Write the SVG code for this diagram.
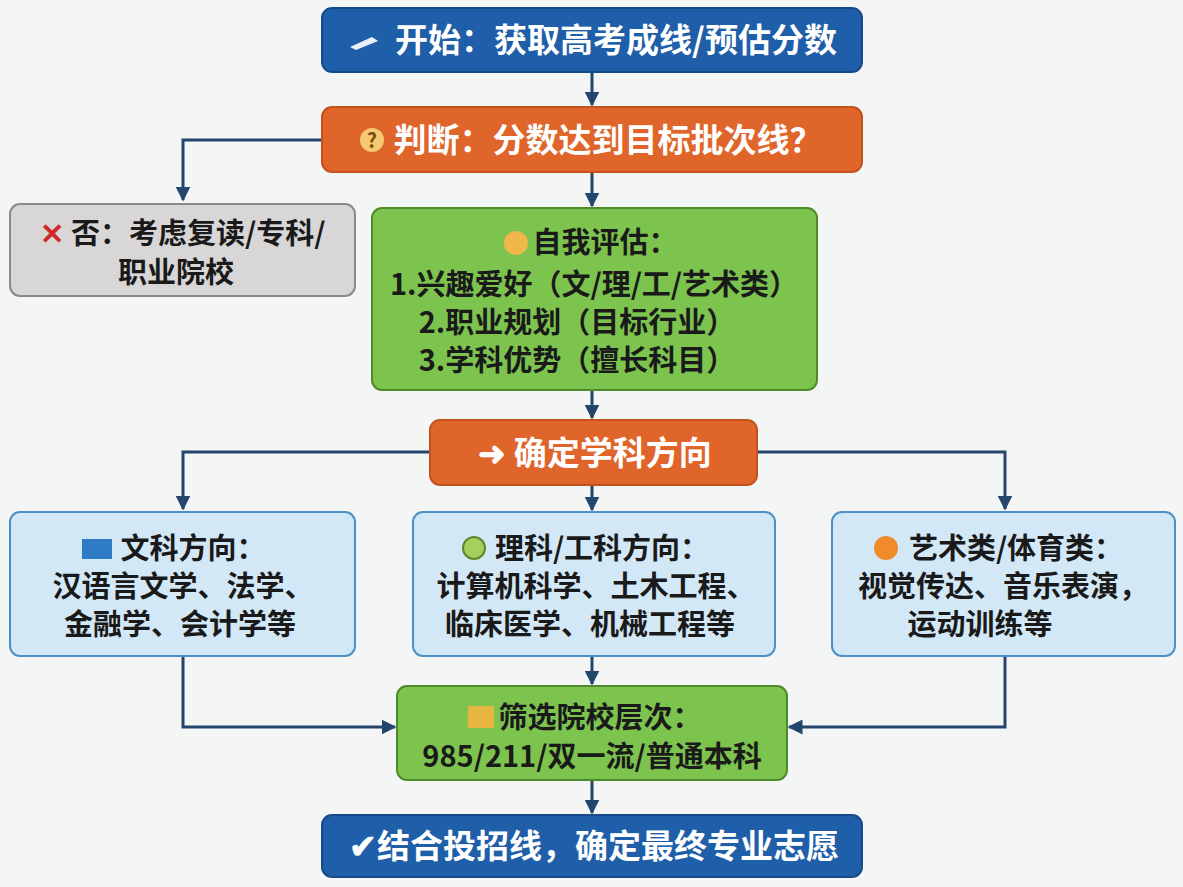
<svg xmlns="http://www.w3.org/2000/svg" width="1183" height="887" viewBox="0 0 1183 887">
<defs>
<style>
text{font-family:"Noto Sans CJK SC","Noto Sans",sans-serif;font-weight:bold;text-anchor:middle}
.w{fill:#fff;font-size:33px}
.d{fill:#1a1a1a;font-size:29px}
.blue{fill:#1f5ea8;stroke:#174a88;stroke-width:2}
.orange{fill:#e0652a;stroke:#c4521c;stroke-width:2}
.gray{fill:#d8d6d6;stroke:#8a8a8a;stroke-width:2}
.green{fill:#7cc44e;stroke:#4d8a2a;stroke-width:2}
.lb{fill:#d3e8f7;stroke:#4d8fc6;stroke-width:2}
.c{fill:none;stroke:#24456e;stroke-width:3}
</style>
<marker id="a" viewBox="0 0 10 10" refX="9" refY="5" markerWidth="5" markerHeight="5" orient="auto"><path d="M0,0L10,5L0,10z" fill="#24456e"/></marker>
</defs>
<rect width="1183" height="887" fill="#f4f5f5"/>
<g id="connectors">
<path class="c" d="M592,72V105" marker-end="url(#a)"/>
<path class="c" d="M322,140H183V200" marker-end="url(#a)"/>
<path class="c" d="M592,172V206" marker-end="url(#a)"/>
<path class="c" d="M592,390V418" marker-end="url(#a)"/>
<path class="c" d="M430,452H183V509" marker-end="url(#a)"/>
<path class="c" d="M757,452H1005V509" marker-end="url(#a)"/>
<path class="c" d="M592,485V510" marker-end="url(#a)"/>
<path class="c" d="M592,656V684" marker-end="url(#a)"/>
<path class="c" d="M183,656V727H395" marker-end="url(#a)"/>
<path class="c" d="M1005,656V727H789" marker-end="url(#a)"/>
<path class="c" d="M592,780V813" marker-end="url(#a)"/>
</g>
<g id="start"><rect class="blue" x="322" y="8" width="540" height="64" rx="10"/>
<path d="M350,47l22,-10l6,4l-22,9z" fill="#e8f0fb"/>
<text class="w" x="616" y="52">开始：获取高考成线/预估分数</text></g>
<g id="judge"><rect class="orange" x="322" y="107" width="540" height="65" rx="10"/>
<circle cx="372" cy="140" r="12" fill="#f6c870"/><text x="372" y="148" style="font-size:20px;fill:#7a4a10">?</text>
<text class="w" x="608" y="152">判断：分数达到目标批次线？</text></g>
<g id="no"><rect class="gray" x="10" y="204" width="345" height="92" rx="10"/>
<text class="d" x="183" y="244"><tspan fill="#d0282a">✕</tspan> 否：考虑复读/专科/</text>
<text class="d" x="176" y="283">职业院校</text></g>
<g id="self"><rect class="green" x="372" y="208" width="445" height="182" rx="10"/>
<circle cx="516" cy="243" r="12" fill="#f0b84a"/>
<text class="d" x="605" y="253">自我评估：</text>
<text class="d" x="594" y="295">1.兴趣爱好（文/理/工/艺术类）</text>
<text class="d" x="577" y="333">2.职业规划（目标行业）</text>
<text class="d" x="577" y="371">3.学科优势（擅长科目）</text></g>
<g id="dir"><rect class="orange" x="430" y="420" width="327" height="65" rx="10"/>
<text class="w" x="595" y="465">➜ 确定学科方向</text></g>
<g id="wen"><rect class="lb" x="10" y="512" width="345" height="144" rx="10"/>
<rect x="82" y="539" width="30" height="20" fill="#2f7cc4"/>
<text class="d" x="193" y="559">文科方向：</text>
<text class="d" x="183" y="597">汉语言文学、法学、</text>
<text class="d" x="180" y="635">金融学、会计学等</text></g>
<g id="li"><rect class="lb" x="413" y="512" width="362" height="144" rx="10"/>
<circle cx="474" cy="548" r="11" fill="#a5cf5f" stroke="#5b8a2a" stroke-width="2"/>
<text class="d" x="602" y="559">理科/工科方向：</text>
<text class="d" x="596" y="597">计算机科学、土木工程、</text>
<text class="d" x="590" y="635">临床医学、机械工程等</text></g>
<g id="art"><rect class="lb" x="832" y="512" width="343" height="144" rx="10"/>
<circle cx="886" cy="548" r="12" fill="#f08a2a"/>
<text class="d" x="1016" y="559">艺术类/体育类：</text>
<text class="d" x="1003" y="597">视觉传达、音乐表演，</text>
<text class="d" x="980" y="635">运动训练等</text></g>
<g id="school"><rect class="green" x="397" y="686" width="390" height="94" rx="10"/>
<rect x="468" y="706" width="26" height="22" fill="#e6b640"/>
<text class="d" x="600" y="728">筛选院校层次：</text>
<text class="d" x="592" y="767">985/211/双一流/普通本科</text></g>
<g id="final"><rect class="blue" x="322" y="815" width="540" height="62" rx="10"/>
<text class="w" x="594" y="858">✔结合投招线，确定最终专业志愿</text></g>
</svg>
